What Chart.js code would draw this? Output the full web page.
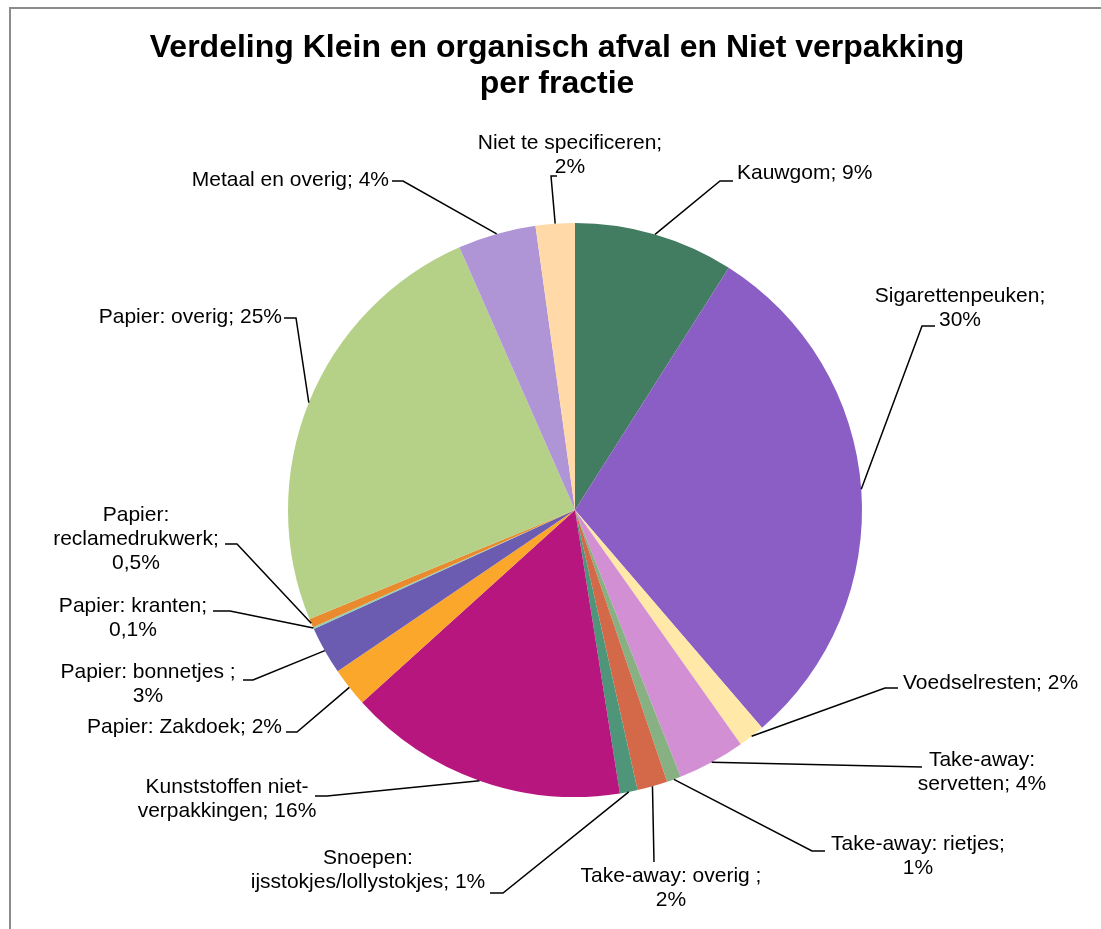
<!DOCTYPE html>
<html>
<head>
<meta charset="utf-8">
<script src="https://cdn.jsdelivr.net/npm/chart.js@4.4.0/dist/chart.umd.min.js"></script>
<style>
  html, body { margin: 0; padding: 0; background: #fff; }
  #wrap { position: relative; width: 1101px; height: 929px; }
</style>
</head>
<body>
<div id="wrap"><canvas id="afvalChart" width="1101" height="929"></canvas></div>
<script>
// Fractions, clockwise from the top
const categories = [
    'Kauwgom', 'Sigarettenpeuken', 'Voedselresten', 'Take-away: servetten',
    'Take-away: rietjes', 'Take-away: overig ', 'Snoepen: ijsstokjes/lollystokjes',
    'Kunststoffen niet-verpakkingen', 'Papier: Zakdoek', 'Papier: bonnetjes ',
    'Papier: kranten', 'Papier: reclamedrukwerk', 'Papier: overig',
    'Metaal en overig', 'Niet te specificeren'
];
const shares = [9.0, 29.7, 1.5, 3.8, 0.8, 1.7, 1.0, 15.8, 2.2, 2.7, 0.1, 0.5, 24.6, 4.4, 2.2];
const pctLabels = ['9%', '30%', '2%', '4%', '1%', '2%', '1%', '16%', '2%', '3%', '0,1%', '0,5%', '25%', '4%', '2%'];
const sliceColors = [
    '#427c61', '#8a5ec4', '#ffe8a8', '#d38fd3', '#87b182', '#d4694a', '#4f957a',
    '#b8167f', '#fba72b', '#6c5cb1', '#8fd0b0', '#e98a2e', '#b5d188', '#b095d6', '#ffd9a8'
];
const titleLines = ['Verdeling Klein en organisch afval en Niet verpakking', 'per fractie'];

// Label placement (px, relative to pie centre): leader bend points, text anchor, wrap width
const labelLayout = [
    { pts: [[145, -329], [158, -329]], tx: 162, ty: -337, align: 'left', w: 400 },
    { pts: [[347, -184], [360, -184]], tx: 385, ty: -214, align: 'center', w: 185 },
    { pts: [[310, 178], [323, 178]], tx: 328, ty: 173, align: 'left', w: 400 },
    { pts: [[347, 257]], tx: 407, ty: 250, align: 'center', w: 140 },
    { pts: [[237, 341], [250, 341]], tx: 343, ty: 334, align: 'center', w: 190 },
    { pts: [[79, 352]], tx: 96, ty: 366, align: 'center', w: 195 },
    { pts: [[-72, 383], [-85, 383]], tx: -207, ty: 348, align: 'center', w: 250 },
    { pts: [[-248, 286], [-260, 286]], tx: -348, ty: 277, align: 'center', w: 190 },
    { pts: [[-278, 222], [-289, 222]], tx: -293, ty: 217, align: 'right', w: 400 },
    { pts: [[-322, 170], [-332, 170]], tx: -427, ty: 162, align: 'center', w: 185 },
    { pts: [[-345, 101], [-362, 101]], tx: -442, ty: 96, align: 'center', w: 160 },
    { pts: [[-338, 34], [-350, 34]], tx: -439, ty: 5, align: 'center', w: 175 },
    { pts: [[-279, -192], [-291, -192]], tx: -293, ty: -193, align: 'right', w: 400 },
    { pts: [[-172, -329], [-183, -329]], tx: -186, ty: -330, align: 'right', w: 400 },
    { pts: [[-24, -334], [-18, -334]], tx: -5, ty: -367, align: 'center', w: 195 }
];

const LABEL_FONT = '21px "Liberation Sans", Arial, sans-serif';
const LINE_H = 24;

function wrapText(ctx, text, maxW) {
    // break after spaces and hyphens
    const tokens = text.match(/[^\s-]+-?|\s+/g) || [];
    const lines = [];
    let cur = '';
    tokens.forEach(tok => {
        const test = cur + tok;
        if (cur.trim() && ctx.measureText(test.trimEnd()).width > maxW) {
            lines.push(cur.trimEnd());
            cur = tok.trimStart();
        } else {
            cur = test;
        }
    });
    if (cur.trim()) lines.push(cur.trimEnd());
    return lines;
}

const framePlugin = {
    id: 'frame',
    beforeDraw(chart) {
        const ctx = chart.ctx;
        ctx.save();
        ctx.fillStyle = '#ffffff';
        ctx.fillRect(0, 0, chart.width, chart.height);
        ctx.strokeStyle = '#8c8c8c';
        ctx.lineWidth = 2;
        ctx.beginPath();
        ctx.moveTo(10, chart.height);
        ctx.lineTo(10, 8);
        ctx.lineTo(chart.width, 8);
        ctx.stroke();

        ctx.fillStyle = '#000';
        ctx.font = 'bold 32px "Liberation Sans", Arial, sans-serif';
        ctx.textAlign = 'center';
        ctx.textBaseline = 'middle';
        titleLines.forEach((t, i) => ctx.fillText(t, 557, 48 + i * 36));
        ctx.restore();
    }
};

const labelPlugin = {
    id: 'outsideLabels',
    afterDatasetsDraw(chart) {
        const ctx = chart.ctx;
        const arcs = chart.getDatasetMeta(0).data;
        ctx.save();
        ctx.font = LABEL_FONT;
        arcs.forEach((arc, i) => {
            const lay = labelLayout[i];
            const p = arc.getProps(['x', 'y', 'startAngle', 'endAngle', 'outerRadius'], true);
            const mid = (p.startAngle + p.endAngle) / 2;
            const s = p.outerRadius / 287;

            ctx.strokeStyle = '#000';
            ctx.lineWidth = 1.5;
            ctx.beginPath();
            ctx.moveTo(p.x + Math.cos(mid) * p.outerRadius, p.y + Math.sin(mid) * p.outerRadius);
            lay.pts.forEach(pt => ctx.lineTo(p.x + pt[0] * s, p.y + pt[1] * s));
            ctx.stroke();

            const text = categories[i] + '; ' + pctLabels[i];
            const lines = wrapText(ctx, text, lay.w);
            ctx.fillStyle = '#000';
            ctx.textAlign = lay.align;
            ctx.textBaseline = 'middle';
            lines.forEach((ln, k) => {
                ctx.fillText(ln, p.x + lay.tx * s, p.y + lay.ty * s + k * LINE_H);
            });
        });
        ctx.restore();
    }
};

new Chart(document.getElementById('afvalChart').getContext('2d'), {
    type: 'pie',
    data: {
        labels: categories,
        datasets: [{
            data: shares,
            backgroundColor: sliceColors,
            borderWidth: 0
        }]
    },
    options: {
        responsive: false,
        animation: false,
        layout: { padding: { left: 288, right: 239, top: 223, bottom: 132 } },
        plugins: {
            legend: { display: false },
            tooltip: { enabled: false },
            title: { display: false }
        }
    },
    plugins: [framePlugin, labelPlugin]
});
</script>
</body>
</html>
